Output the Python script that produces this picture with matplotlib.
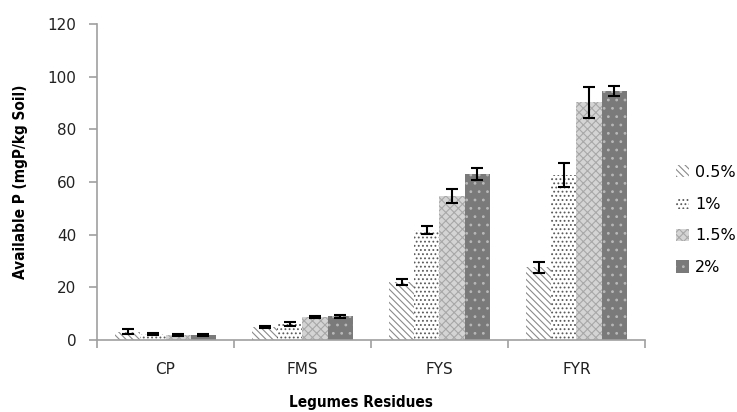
import matplotlib
matplotlib.use("Agg")
import matplotlib.pyplot as plt
import numpy as np

plt.rcParams['hatch.linewidth'] = 0.8

categories = ["CP", "FMS", "FYS", "FYR"]
series_names = ["0.5%", "1%", "1.5%", "2%"]
values = {
    "0.5%": [3.2, 5.0, 22.0, 27.7],
    "1%":   [2.2, 6.0, 41.8, 62.7],
    "1.5%": [2.0, 8.8, 54.7, 90.2],
    "2%":   [1.9, 9.0, 63.0, 94.6],
}
errors = {
    "0.5%": [0.8, 0.5, 1.0, 2.1],
    "1%":   [0.3, 0.8, 1.5, 4.7],
    "1.5%": [0.3, 0.4, 2.8, 5.9],
    "2%":   [0.3, 0.5, 2.4, 1.9],
}
y_ticks = [0, 20, 40, 60, 80, 100, 120]

styles = {
    "0.5%": dict(facecolor="white", edgecolor="#8a8a8a", hatch="\\\\\\\\\\"),
    "1%":   dict(facecolor="white", edgecolor="#5a5a5a", hatch="...."),
    "1.5%": dict(facecolor="#d4d4d4", edgecolor="#a8a8a8", hatch="xxxx"),
    "2%":   dict(facecolor="#7a7a7a", edgecolor="#b8b8b8", hatch=".."),
}

fig = plt.figure(figsize=(7.37, 4.12), dpi=100)
ax = fig.add_axes([97/737, 1-340/412, (645-97)/737, (340-24)/412])

x = np.arange(len(categories))
w = 0.183
handles = []
for i, s in enumerate(series_names):
    pos = x + (i - 1.5) * w
    h = ax.bar(pos, values[s], width=w, linewidth=0, label=s, **styles[s])
    handles.append(h)
    ax.errorbar(pos, values[s], yerr=errors[s], fmt="none", ecolor="black",
                elinewidth=1.5, capsize=4, capthick=1.5)

ax.set_xlim(-0.5, len(categories) - 0.5)
ax.set_ylim(0, 120)
ax.set_yticks(y_ticks)
ax.set_xticks(x)
ax.set_xticklabels(categories)
ax.set_xticks(np.arange(len(categories) + 1) - 0.5, minor=True)

for side in ["top", "right"]:
    ax.spines[side].set_visible(False)
for side in ["left", "bottom"]:
    ax.spines[side].set_color("#a0a0a0")
    ax.spines[side].set_linewidth(1.2)

ax.tick_params(axis="y", direction="out", length=6, width=1.2, color="#a0a0a0",
               labelsize=11, labelcolor="#222222", pad=9)
ax.tick_params(axis="x", which="major", length=0, labelsize=11,
               labelcolor="#222222", pad=16)
ax.tick_params(axis="x", which="minor", direction="out", length=6, width=1.2,
               color="#a0a0a0")

ax.set_ylabel("Available P (mgP/kg Soil)", fontsize=11, fontweight="bold",
              family="DejaVu Sans", fontstretch="condensed", labelpad=14)
fig.text(361/737, 1-403/412, "Legumes Residues", fontsize=11, fontweight="bold",
         family="DejaVu Sans", fontstretch="condensed", ha="center", va="center")

fig.legend(handles=handles, labels=series_names, loc="center left",
           bbox_to_anchor=(676/737, 1-220/412), bbox_transform=fig.transFigure,
           frameon=False, fontsize=11.5, handlelength=0.8, handleheight=0.8,
           handletextpad=0.4, labelspacing=1.05, borderaxespad=0, borderpad=0)

fig.savefig("out.png", dpi=100)
